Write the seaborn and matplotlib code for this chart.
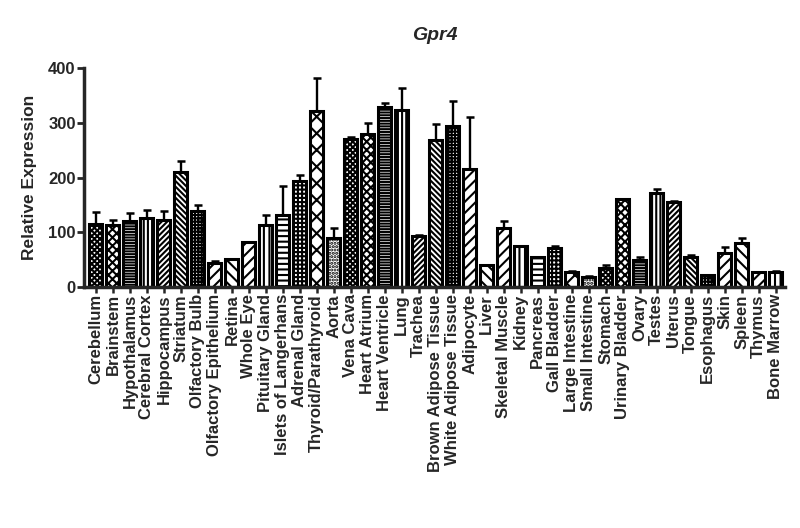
import numpy as np
import pandas as pd
import matplotlib
matplotlib.use("Agg")
import matplotlib.pyplot as plt
import seaborn as sns

tissues = ["Cerebellum", "Brainstem", "Hypothalamus", "Cerebral Cortex", "Hippocampus",
           "Striatum", "Olfactory Bulb", "Olfactory Epithelium", "Retina", "Whole Eye",
           "Pituitary Gland", "Islets of Langerhans", "Adrenal Gland", "Thyroid/Parathyroid",
           "Aorta", "Vena Cava", "Heart Atrium", "Heart Ventricle", "Lung", "Trachea",
           "Brown Adipose Tissue", "White Adipose Tissue", "Adipocyte", "Liver",
           "Skeletal Muscle", "Kidney", "Pancreas", "Gall Bladder", "Large Intestine",
           "Small Intestine", "Stomach", "Urinary Bladder", "Ovary", "Testes", "Uterus",
           "Tongue", "Esophagus", "Skin", "Spleen", "Thymus", "Bone Marrow"]

expression = [114.8, 113.6, 121, 127, 122.7, 211, 138.6, 44.6, 50.7, 81.8,
              113, 131, 194, 321.8, 90.4, 270, 280, 329.8, 323.7, 94,
              269.3, 294.4, 216, 39.7, 107.5, 75.1, 55.6, 70.8, 27.5,
              19.5, 34.8, 161, 48.9, 172.8, 155.7, 56, 22.6, 62.9, 80.6, 27.5, 26.9]

sem = [22, 8.5, 15, 14.7, 17, 20, 11, 2.4, 1.3, 1.2,
       19.5, 53.4, 10.6, 60, 18.6, 3.6, 20, 7.2, 39.3, 1,
       29.3, 45.6, 95.5, 0.8, 12.8, 0.9, 0.4, 4.2, 1.5,
       0.5, 5.5, 0.5, 6.1, 6.7, 1.8, 2, 0.4, 10.4, 9.2, 0.5, 3.1]

# Prism style fill patterns, repeating every 15 bars
patterns = ["xxxxxx", "xxxx", "------", "||||", "//////", "\\\\\\\\\\\\", "+++++",
            "///", "\\\\\\", "///", "|||", "---", "++++", "xx", "....."]

df = pd.DataFrame({"tissue": tissues, "expression": expression})

sns.set_style("ticks")
plt.rcParams["font.family"] = ["Liberation Sans", "DejaVu Sans"]
plt.rcParams["font.weight"] = "bold"
plt.rcParams["hatch.linewidth"] = 1.5

fig = plt.figure(figsize=(8, 5.28), dpi=100)
ax = fig.add_axes([0.105, 0.456, 0.876, 0.415])

sns.barplot(data=df, x="tissue", y="expression", color="white", saturation=1,
            width=0.76, edgecolor="black", linewidth=2.2, errorbar=None, ax=ax)

for i, bar in enumerate(ax.patches):
    bar.set_hatch(patterns[i % len(patterns)])
    bar.set_facecolor("white")
    bar.set_edgecolor("black")

x = np.arange(len(tissues))
ax.errorbar(x, expression, yerr=[np.zeros(len(sem)), sem], fmt="none",
            ecolor="black", elinewidth=1.7, capsize=3, capthick=1.8, zorder=1)

ax.set_xlim(-0.7, len(tissues) - 0.47)
ax.set_ylim(0, 400)
ax.set_yticks([0, 100, 200, 300, 400])
ax.set_xlabel("")
ax.set_ylabel("Relative Expression", fontsize=12.5, fontweight="bold", labelpad=8)
ax.set_title("Gpr4", fontsize=14, fontweight="bold", fontstyle="italic", pad=20)

ax.tick_params(axis="x", labelrotation=90, labelsize=12, length=4, width=1.8, pad=1)
ax.tick_params(axis="y", labelsize=12, length=5, width=2, pad=1)
for lab in ax.get_xticklabels() + ax.get_yticklabels():
    lab.set_fontweight("bold")

sns.despine(ax=ax)
for s in ["left", "bottom"]:
    ax.spines[s].set_linewidth(2.5)

fig.savefig("out.png", dpi=100)
